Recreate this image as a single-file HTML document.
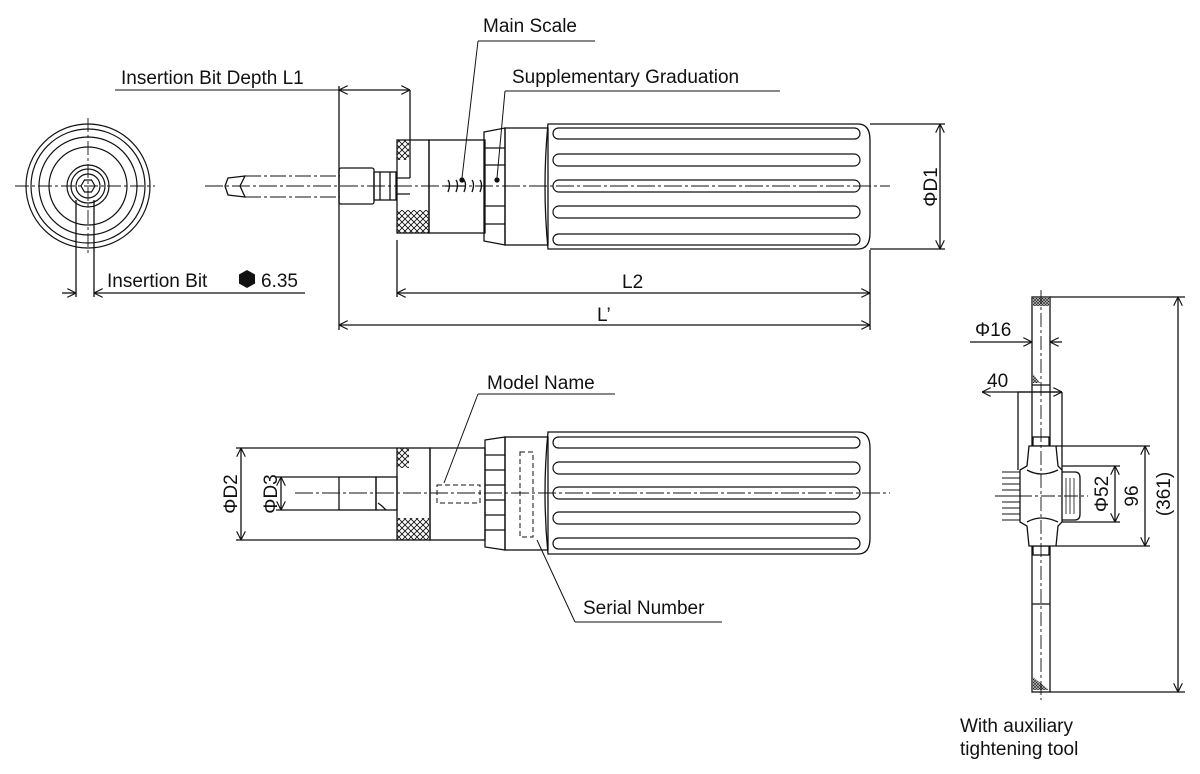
<!DOCTYPE html>
<html><head><meta charset="utf-8"><style>html,body{margin:0;padding:0;background:#fff}svg{display:block}text{font-family:"Liberation Sans",sans-serif;font-size:19px;fill:#111}</style></head>
<body>
<svg width="1200" height="774" viewBox="0 0 1200 774" xmlns="http://www.w3.org/2000/svg">
<defs>
<marker id="a" viewBox="0 0 10 10" refX="10" refY="5" markerWidth="9" markerHeight="9" orient="auto-start-reverse" markerUnits="userSpaceOnUse"><path d="M0,0 L10,5 L0,10" fill="none" stroke="#111" stroke-width="1.3"/></marker>
<pattern id="x" width="6" height="6" patternUnits="userSpaceOnUse"><path d="M0,0L6,6M6,0L0,6" stroke="#111" stroke-width="0.9"/></pattern>
<pattern id="h" width="3" height="3" patternUnits="userSpaceOnUse"><rect width="3" height="3" fill="#bbb"/><path d="M0,0L3,3M3,0L0,3" stroke="#222" stroke-width="0.6"/></pattern>
</defs>
<g fill="none" stroke="#111" stroke-width="1.3">
<!-- ===== End view ===== -->
<g stroke-width="1.2">
<circle cx="88" cy="186" r="62"/>
<circle cx="88" cy="186" r="57"/>
<circle cx="88" cy="186" r="49"/>
<circle cx="88" cy="186" r="39"/>
<circle cx="88" cy="186" r="21"/>
<circle cx="88" cy="186" r="17"/>
<circle cx="88" cy="186" r="12"/>
<path d="M95,186 L91.5,192 L84.5,192 L81,186 L84.5,180 L91.5,180 Z"/>
</g>
<path d="M15,186H155M88,118V255" stroke-width="0.9" stroke-dasharray="14,3,3,3"/>
<path d="M76,200V297M94,200V297"/>
<path d="M62,293H76" marker-end="url(#a)"/>
<path d="M305,293H94" marker-end="url(#a)"/>
<!-- ===== Top side view ===== -->
<path d="M205,186H890" stroke-width="0.9" stroke-dasharray="18,3,3,3"/>
<path d="M228,178 L245,176 L240,186 L245,197 L228,195 L225,186 Z"/>
<path d="M245,176H340M245,197H340" stroke-dasharray="16,3,3,3" stroke-width="1"/>
<rect x="339" y="168" width="35" height="36" rx="2"/>
<rect x="374" y="172" width="22" height="28"/>
<path d="M380,172V200M390,172V200M396,178H410M396,194H410M410,90V178"/>
<rect x="397" y="140" width="32" height="93"/>
<rect x="397" y="140" width="12" height="20" fill="url(#x)" stroke="none"/>
<rect x="397" y="210" width="32" height="23" fill="url(#x)" stroke="none"/>
<rect x="429" y="140" width="56" height="93"/>
<path d="M484,132 L505,128 V245 L484,241 Z"/>
<path d="M484,148H505M484,165H505M484,206H505M484,224H505"/>
<path d="M445,186H465M448,180q3,4 0,12M456,180q3,4 0,12M464,180q3,4 0,12M472,180q3,4 0,12M480,180q3,4 0,12"/>
<circle cx="462" cy="180" r="2" fill="#111"/><circle cx="497" cy="180" r="2" fill="#111"/>
<rect x="505" y="128" width="43" height="117"/>
<path d="M548,124 H858 Q870,124 870,140 V233 Q870,249 858,249 H548 Q542,186 548,124 Z"/>
<g stroke-width="1.2">
<rect x="553" y="128" width="307" height="11" rx="5.5"/>
<rect x="553" y="154" width="307" height="12" rx="6"/>
<rect x="553" y="180" width="307" height="12" rx="6"/>
<rect x="553" y="206" width="307" height="12" rx="6"/>
<rect x="553" y="234" width="307" height="11" rx="5.5"/>
</g>
<!-- dims top -->
<path d="M115,90H339" stroke-width="1"/>
<path d="M339,86V330"/>
<path d="M339,90H410" marker-start="url(#a)" marker-end="url(#a)"/>
<path d="M397,240V297M870,250V330M870,124H945M870,249H945"/>
<path d="M397,293H870" marker-start="url(#a)" marker-end="url(#a)"/>
<path d="M339,325H870" marker-start="url(#a)" marker-end="url(#a)"/>
<path d="M940,124V249" marker-start="url(#a)" marker-end="url(#a)"/>
<path d="M478,41H595M478,41L462,178M505,91H780M505,91L497,178" stroke-width="1"/>
<!-- ===== Bottom view ===== -->
<path d="M295,493H890" stroke-width="0.9" stroke-dasharray="18,3,3,3"/>
<rect x="339" y="477" width="37" height="33"/>
<rect x="376" y="477" width="21" height="33"/>
<path d="M378,503 l4,3 l4,4"/>
<rect x="397" y="448" width="33" height="92"/>
<rect x="397" y="448" width="12" height="20" fill="url(#x)" stroke="none"/>
<rect x="397" y="518" width="32" height="22" fill="url(#x)" stroke="none"/>
<rect x="430" y="448" width="55" height="92"/>
<path d="M485,440 L505,437 V550 L485,547 Z"/>
<path d="M485,455H505M485,470H505M485,485H505M485,500H505M485,515H505M485,530H505"/>
<rect x="505" y="437" width="43" height="113"/>
<path d="M548,432 H858 Q870,432 870,448 V538 Q870,554 858,554 H548 Q542,493 548,432 Z"/>
<g stroke-width="1.2">
<rect x="553" y="437" width="307" height="11" rx="5.5"/>
<rect x="553" y="462" width="307" height="12" rx="6"/>
<rect x="553" y="487" width="307" height="12" rx="6"/>
<rect x="553" y="512" width="307" height="12" rx="6"/>
<rect x="553" y="538" width="307" height="11" rx="5.5"/>
</g>
<rect x="437" y="485" width="43" height="18" stroke-dasharray="5,3" stroke-width="1"/>
<rect x="520" y="452" width="13" height="85" stroke-dasharray="5,3" stroke-width="1"/>
<path d="M478,394H615M478,394L444,483M575,622H722M575,622L537,540" stroke-width="1"/>
<path d="M236,448H397M236,540H397M276,477H339M276,510H339"/>
<path d="M241,448V540" marker-start="url(#a)" marker-end="url(#a)"/>
<path d="M281,477V510" marker-start="url(#a)" marker-end="url(#a)"/>
<!-- ===== Right view ===== -->
<rect x="1032" y="297" width="18" height="395"/>
<rect x="1033" y="298" width="16" height="8" fill="url(#h)" stroke="none"/>
<path d="M1033,677 L1049,690 L1033,690 Z" fill="url(#h)" stroke="none"/>
<path d="M1033,374 L1040,383 L1033,383 Z" fill="url(#h)" stroke="none"/>
<path d="M1032,385H1050M1032,604H1050"/>
<rect x="1033" y="437" width="16" height="9"/>
<rect x="1033" y="546" width="16" height="9"/>
<path d="M1029,446 H1056 L1058,466 L1062,470 V522 L1058,526 L1056,546 H1029 L1027,526 L1020,522 V470 L1027,466 Z" fill="#fff"/>
<path d="M1027,470 Q1041,478 1058,470M1027,522 Q1041,514 1058,522"/>
<path d="M1002,472H1020M1002,478H1020M1002,484H1020M1002,490H1020M1002,496H1020M1002,502H1020M1002,508H1020M1002,514H1020M1002,520H1020" stroke-width="1"/>
<path d="M1062,472 H1075 Q1080,472 1080,478 V514 Q1080,520 1075,520 H1062"/>
<path d="M1066,478V514M1070,478V514M1074,478V514" stroke-width="0.8"/>
<path d="M1041,290V700M995,496H1088" stroke-width="0.9" stroke-dasharray="14,3,3,3"/>
<path d="M970,342H1032" marker-end="url(#a)"/>
<path d="M1062,342H1050" marker-end="url(#a)"/>
<path d="M1018,392V470M1062,392V470"/>
<path d="M982,392H1062" marker-start="url(#a)"/>
<path d="M1018,392H1062" marker-end="url(#a)"/>
<path d="M1062,466H1120M1062,522H1120M1056,446H1150M1056,546H1150M1050,297H1185M1050,692H1185"/>
<path d="M1115,466V522" marker-start="url(#a)" marker-end="url(#a)"/>
<path d="M1145,446V546" marker-start="url(#a)" marker-end="url(#a)"/>
<path d="M1178,297V692" marker-start="url(#a)" marker-end="url(#a)"/>
</g>
<!-- text -->
<text x="483" y="32">Main Scale</text>
<text x="512" y="83">Supplementary Graduation</text>
<text x="121" y="84">Insertion Bit Depth L1</text>
<text x="107" y="287">Insertion Bit</text>
<path d="M247,270 L255,274.5 V283.5 L247,288 L239,283.5 V274.5 Z" fill="#111"/>
<text x="261" y="287">6.35</text>
<text x="622" y="288">L2</text>
<text x="597" y="321">L’</text>
<text transform="translate(937,187) rotate(-90)" text-anchor="middle">ΦD1</text>
<text x="487" y="389">Model Name</text>
<text x="583" y="614">Serial Number</text>
<text transform="translate(237,494) rotate(-90)" text-anchor="middle">ΦD2</text>
<text transform="translate(277,494) rotate(-90)" text-anchor="middle">ΦD3</text>
<text x="975" y="336">Φ16</text>
<text x="987" y="387">40</text>
<text transform="translate(1108,494) rotate(-90)" text-anchor="middle">Φ52</text>
<text transform="translate(1138,496) rotate(-90)" text-anchor="middle">96</text>
<text transform="translate(1170,494) rotate(-90)" text-anchor="middle">(361)</text>
<text x="960" y="732">With auxiliary</text>
<text x="960" y="755">tightening tool</text>
</svg>
</body></html>
